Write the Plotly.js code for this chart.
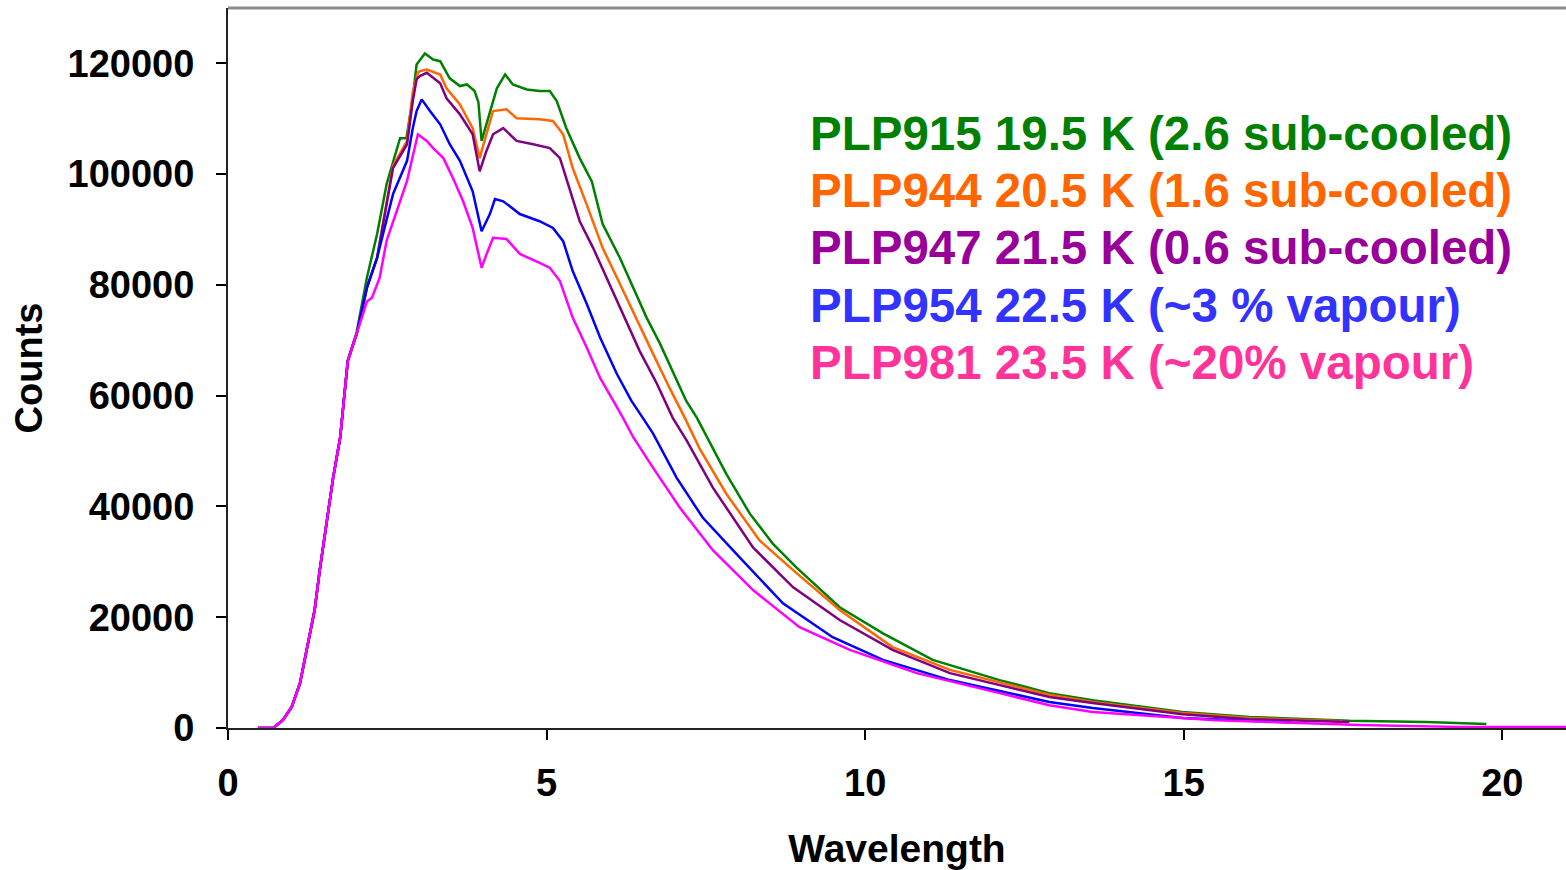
<!DOCTYPE html>
<html>
<head>
<meta charset="utf-8">
<script src="https://cdn.plot.ly/plotly-3.0.1.min.js"></script>
<style>
html,body{margin:0;padding:0;background:#fff;}
#chart{width:1566px;height:870px;}
</style>
</head>
<body>
<div id="chart"></div>
<script>
// ---- Data ----
const seriesNames = [
  "PLP915 19.5 K (2.6 sub-cooled)",
  "PLP944 20.5 K (1.6 sub-cooled)",
  "PLP947 21.5 K (0.6 sub-cooled)",
  "PLP954 22.5 K (~3 % vapour)",
  "PLP981 23.5 K (~20% vapour)"
];

const x915 = [0.47,0.71,0.86,1.0,1.13,1.26,1.36,1.44,1.55,1.65,1.76,1.84,1.88,2.02,2.18,2.34,2.49,2.70,2.80,2.90,2.96,3.09,3.22,3.33,3.48,3.64,3.75,3.87,3.93,3.98,4.04,4.11,4.22,4.35,4.47,4.69,4.89,5.05,5.16,5.31,5.52,5.71,5.88,6.15,6.36,6.57,6.78,7.04,7.19,7.36,7.82,8.19,8.55,8.92,9.6,10.28,11.06,12.11,12.89,13.57,14.98,16.03,17.6,18.8,19.4,19.75];
const y915 = [0,0,1400,3800,8100,15300,21300,28500,36900,45200,52400,60900,66300,71500,81300,89200,98200,106500,106500,113700,119800,121800,120700,120400,117300,115900,116200,115000,113000,106000,108500,111400,115500,118000,116200,115300,115000,115000,113200,108300,102900,98700,91000,84900,79500,74100,69400,62700,59100,56000,45900,38700,33300,29000,21800,17100,12300,8650,6300,5000,2900,2000,1300,1100,900,700];

const x944 = [0.47,0.71,0.86,1.0,1.13,1.26,1.36,1.44,1.55,1.65,1.76,1.84,1.88,2.02,2.18,2.34,2.59,2.81,2.90,2.98,3.01,3.12,3.33,3.43,3.64,3.84,3.95,4.05,4.16,4.37,4.53,4.89,5.10,5.26,5.41,5.63,5.88,6.15,6.42,6.67,6.93,7.17,7.40,7.82,8.34,8.87,9.6,10.43,11.33,12.89,13.57,14.98,16.03,17.5];
const y944 = [0,0,1400,3800,8100,15300,21300,28500,36900,45200,52400,60900,66300,71200,79500,84900,101500,106000,114800,118300,118600,118900,118000,115500,112600,108300,102900,107000,111400,111700,110100,109900,109600,107200,101100,94500,86700,80200,73500,67600,61400,56000,50500,42300,33900,28500,21300,14600,10500,6000,4700,2700,1800,1200];

const x947 = [0.47,0.71,0.86,1.0,1.13,1.26,1.36,1.44,1.55,1.65,1.76,1.84,1.88,2.02,2.18,2.34,2.59,2.81,2.90,2.96,3.01,3.12,3.33,3.43,3.64,3.84,3.95,4.05,4.16,4.32,4.53,4.79,5.05,5.21,5.29,5.52,5.73,5.94,6.20,6.46,6.73,6.98,7.20,7.61,8.24,8.87,9.6,10.43,11.33,12.89,13.57,14.98,16.03,17.6];
const y947 = [0,0,1400,3800,8100,15300,21300,28500,36900,45200,52400,60900,66300,71200,79500,84900,101100,105400,113200,117100,117700,118300,116400,113700,110800,107200,100500,104000,107200,108300,106000,105400,104700,102900,100000,91500,86700,81300,74800,68100,62200,56000,51900,43400,32600,25400,19500,14100,9900,5600,4500,2500,1600,1100];

const x954 = [0.47,0.71,0.86,1.0,1.13,1.26,1.36,1.44,1.55,1.65,1.76,1.84,1.88,2.02,2.18,2.34,2.59,2.81,2.90,2.96,3.04,3.17,3.33,3.48,3.64,3.84,3.98,4.11,4.19,4.32,4.58,4.89,5.10,5.26,5.41,5.63,5.84,6.10,6.33,6.51,6.67,7.04,7.45,8.03,8.71,9.49,10.28,11.33,12.89,13.57,14.98,16.7];
const y954 = [0,0,1400,3800,8100,15300,21300,28500,36900,45200,52400,60900,66300,71200,79500,84900,96400,102400,108300,111400,113500,111400,109000,105400,102400,96900,89700,92800,95500,95100,92800,91500,90300,87900,82500,76600,70500,64000,59100,56000,53200,45200,38000,30800,22500,16400,12300,8650,4700,3600,1800,1000];

const x981 = [0.47,0.71,0.86,1.0,1.13,1.26,1.36,1.44,1.55,1.65,1.76,1.84,1.88,2.02,2.18,2.26,2.38,2.49,2.70,2.81,2.98,3.12,3.22,3.38,3.53,3.69,3.84,3.98,4.06,4.16,4.37,4.58,4.89,5.05,5.21,5.41,5.63,5.84,6.07,6.20,6.36,6.67,7.09,7.61,8.24,8.97,9.76,10.81,12.11,12.89,13.57,14.73,15.5,17.76,19.3,21.0];
const y981 = [0,0,1400,3800,8100,15300,21300,28500,36900,45200,52400,60900,66300,71200,77000,77700,81300,88000,95000,98800,107200,106000,104700,102900,99300,95100,90300,83100,85600,88500,88300,85600,84000,83100,80700,74100,68700,63200,58600,56000,52500,47000,39800,32100,24900,18200,14100,9900,6300,4100,2900,2000,1400,540,200,200];

const xTickVals = [0, 5, 10, 15, 20];
const yTickVals = [0, 20000, 40000, 60000, 80000, 100000, 120000];

// ---- Styling ----
const lineColors = ["#008000", "#FF6600", "#800080", "#0000FF", "#FF00FF"];
const textColors = ["#008000", "#FF6600", "#990099", "#3333FF", "#FF3399"];
const FONT = "Liberation Sans, Arial, Helvetica, sans-serif";

const xs = [x915, x944, x947, x954, x981];
const ys = [y915, y944, y947, y954, y981];

const traces = xs.map((xv, i) => ({
  x: xv, y: ys[i], type: "scatter", mode: "lines",
  name: seriesNames[i],
  line: {color: lineColors[i], width: 2.5},
  showlegend: false, hoverinfo: "skip"
}));

const legendCenters = [133, 190, 247, 305, 362]; // pixel rows
const annotations = seriesNames.map((t, i) => ({
  text: t, xref: "paper", yref: "paper",
  x: (808 - 228) / 1338, y: (728 - legendCenters[i]) / 720,
  xanchor: "left", yanchor: "middle", showarrow: false,
  font: {family: FONT, size: 47.5, color: textColors[i], weight: 700}
}));

const layout = {
  width: 1566, height: 870,
  margin: {l: 228, r: 0, t: 8, b: 142, pad: 0},
  paper_bgcolor: "#fff", plot_bgcolor: "#fff",
  font: {family: FONT, color: "#000"},
  xaxis: {
    range: [0, 21], tickvals: xTickVals, ticktext: xTickVals.map(String),
    showgrid: false, zeroline: false, showline: true, linecolor: "#222", linewidth: 2,
    ticks: "outside", ticklen: 10, tickwidth: 2, tickcolor: "#000",
    tickfont: {family: FONT, size: 38, weight: 700, color: "#000"},
    ticklabelstandoff: 10,
    title: {text: "Wavelength", font: {family: FONT, size: 39, weight: 700, color: "#000"}, standoff: 32}
  },
  yaxis: {
    range: [0, 130000], tickvals: yTickVals, ticktext: yTickVals.map(String),
    showgrid: false, zeroline: false, showline: true, linecolor: "#222", linewidth: 2,
    ticks: "outside", ticklen: 10, tickwidth: 2, tickcolor: "#000",
    tickfont: {family: FONT, size: 38, weight: 700, color: "#000"},
    ticklabelstandoff: 14,
    title: {text: "Counts", font: {family: FONT, size: 38, weight: 700, color: "#000"}, standoff: 13}
  },
  shapes: [{
    type: "line", xref: "paper", yref: "paper", x0: 0, x1: 1, y0: 1, y1: 1,
    line: {color: "#8c8c8c", width: 3}
  }],
  annotations: annotations
};

Plotly.newPlot("chart", traces, layout, {staticPlot: true, displayModeBar: false});
</script>
</body>
</html>
